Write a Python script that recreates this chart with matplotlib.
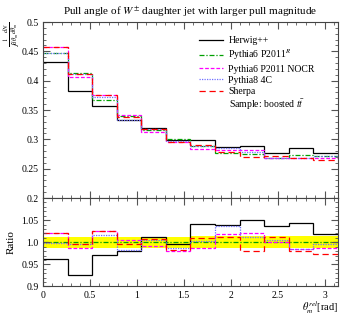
import numpy as np
import matplotlib
matplotlib.use('Agg')
import matplotlib.pyplot as plt
from matplotlib.ticker import MultipleLocator, FormatStrFormatter

# 12 equal bins over [0, pi]
edges = np.linspace(0, np.pi, 13)

# normalised distributions
herwig = [0.431, 0.3816, 0.3565, 0.3326, 0.3195, 0.2997,
          0.2997, 0.287, 0.2894, 0.2775, 0.2853, 0.2775]
py6_r = [0.448, 0.4125, 0.367, 0.339, 0.3155, 0.301,
         0.288, 0.276, 0.2755, 0.2677, 0.2733, 0.2723]
py6_nocr = [0.457, 0.407, 0.376, 0.341, 0.313, 0.295,
            0.284, 0.281, 0.281, 0.268, 0.269, 0.269]
py8_4c = [0.447, 0.411, 0.373, 0.333, 0.317, 0.297,
          0.289, 0.286, 0.279, 0.269, 0.269, 0.271]
sherpa = [0.457, 0.411, 0.376, 0.338, 0.318, 0.296,
          0.291, 0.279, 0.270, 0.271, 0.268, 0.265]
# relative stat. uncertainty of the reference (yellow band)
ref_err = [0.012, 0.012, 0.012, 0.012, 0.012, 0.012,
           0.013, 0.013, 0.013, 0.013, 0.013, 0.013]

series = [
    ('Herwig++', herwig, dict(color='black', ls='-')),
    (r'Pythia6 P2011$^{R}$', py6_r, dict(color='#00a000', ls=(0, (4, 1.5, 1, 1.5)))),
    ('Pythia6 P2011 NOCR', py6_nocr, dict(color='#ff00ff', ls=(0, (3, 1.5)))),
    ('Pythia8 4C', py8_4c, dict(color='#7070ff', ls=(0, (1, 1)))),
    ('Sherpa', sherpa, dict(color='#ff0000', ls=(0, (5, 3)))),
]

plt.rcParams['font.family'] = ['Liberation Serif', 'DejaVu Serif']
plt.rcParams['mathtext.fontset'] = 'stix'

fig = plt.figure(figsize=(3.49, 3.15), dpi=100)
ax = fig.add_axes([0.123, 0.3714, 0.845, 0.5587])
axr = fig.add_axes([0.123, 0.0905, 0.845, 0.281])

ref = np.array(py6_r)
axr.fill_between(edges, np.r_[1 - np.array(ref_err), 1 - ref_err[-1]],
                 np.r_[1 + np.array(ref_err), 1 + ref_err[-1]],
                 step='post', color='#ffff00', lw=0, zorder=1)

for label, vals, st in series:
    ax.stairs(vals, edges, lw=0.9, label=label, baseline=None, **st)
    axr.stairs(np.array(vals) / ref, edges, lw=0.9, baseline=None, **st)

for a in (ax, axr):
    a.set_xlim(0, np.pi)
    a.xaxis.set_major_locator(MultipleLocator(0.5))
    a.xaxis.set_minor_locator(MultipleLocator(0.1))
    a.tick_params(which='both', direction='in', top=True, right=True,
                  labelsize=7, color='#555555', pad=3)
    a.tick_params(which='major', length=5)
    a.tick_params(which='minor', length=2.5)
    for s in a.spines.values():
        s.set_color('#444444')
        s.set_linewidth(0.8)

ax.set_ylim(0.2, 0.5)
ax.yaxis.set_major_locator(MultipleLocator(0.05))
ax.yaxis.set_minor_locator(MultipleLocator(0.01))
ax.yaxis.set_major_formatter(FormatStrFormatter('%g'))
ax.tick_params(labelbottom=False)

axr.set_ylim(0.9, 1.1)
axr.set_yticks([0.9, 0.95, 1.0, 1.05])
axr.set_yticklabels(['0.9', '0.95', '1.0', '1.05'])
axr.yaxis.set_minor_locator(MultipleLocator(0.01))
axr.xaxis.set_major_formatter(FormatStrFormatter('%g'))

ax.set_title(r'Pull angle of $W^{\pm}$ daughter jet with larger pull magnitude',
             fontsize=8, pad=5)
ax.set_ylabel(r'$\frac{1}{\int d\theta_m}\frac{dN}{d\theta_m}$', fontsize=6.5,
              loc='top', labelpad=0)
axr.set_ylabel('Ratio', fontsize=8, labelpad=4)
axr.set_xlabel(r'$\theta_m^{rel}$[rad]', fontsize=7.5, loc='right', labelpad=0)

ax.legend(loc='upper left', bbox_to_anchor=(0.53, 0.918), frameon=False,
          fontsize=7, handlelength=2.4, handletextpad=0.6, labelspacing=0.22,
          borderpad=0, borderaxespad=0)
ax.text(0.632, 0.528, r'Sample: boosted $t\bar{t}$', transform=ax.transAxes,
        fontsize=7, va='center', ha='left')

fig.savefig('out.png', dpi=100)
